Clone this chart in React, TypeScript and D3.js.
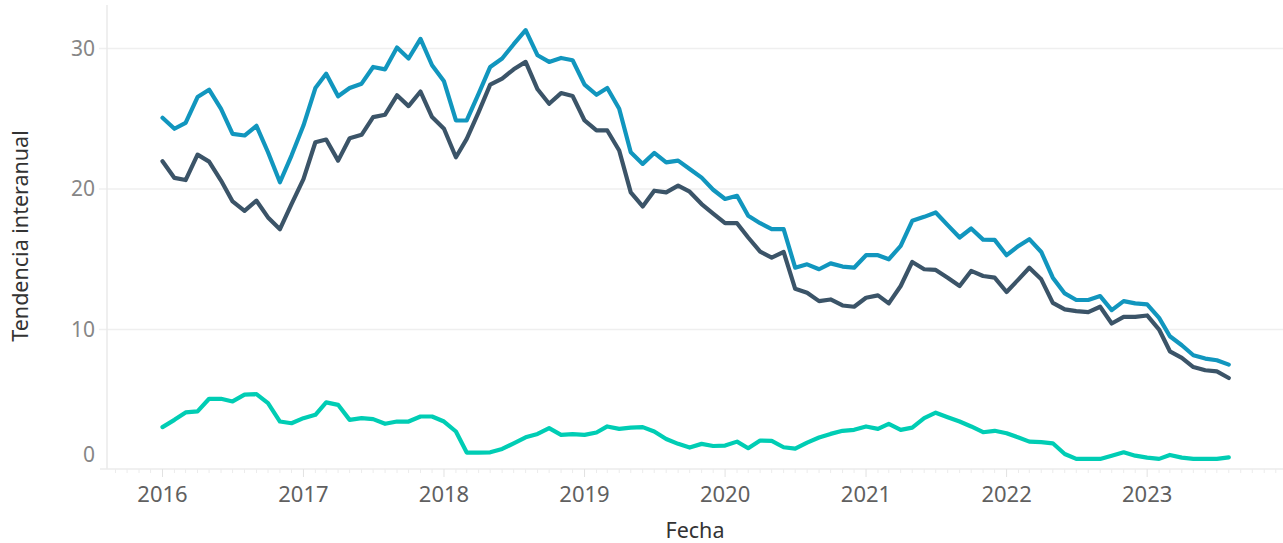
import React from "react";
import * as d3 from "d3";

const START_YEAR = 2016;
const START_MONTH = 0;

const totalSeries = [
  25.07, 24.29, 24.71, 26.55, 27.07, 25.71, 23.93, 23.81, 24.5, 22.62, 20.48, 22.38,
  24.52, 27.19, 28.21, 26.6, 27.19, 27.5, 28.69, 28.52, 30.07, 29.29, 30.69, 28.81,
  27.67, 24.88, 24.88, 26.79, 28.69, 29.29, 30.31, 31.31, 29.52, 29.05, 29.33, 29.17,
  27.43, 26.71, 27.19, 25.71, 22.62, 21.79, 22.57, 21.9, 22.02, 21.43, 20.81, 19.95,
  19.29, 19.52, 18.1, 17.57, 17.14, 17.14, 14.4, 14.64, 14.29, 14.71, 14.48, 14.4,
  15.29, 15.29, 15.0, 15.95, 17.74, 18.02, 18.33, 17.43, 16.55, 17.19, 16.4, 16.38,
  15.29, 15.95, 16.43, 15.52, 13.69, 12.57, 12.1, 12.1, 12.38, 11.38, 12.02, 11.86,
  11.79, 10.83, 9.52, 8.88, 8.17, 7.93, 7.81, 7.5,
];

const darkSeries = [
  21.98, 20.79, 20.64, 22.45, 21.95, 20.6, 19.12, 18.45, 19.17, 17.98, 17.14, 18.93,
  20.71, 23.33, 23.52, 22.02, 23.62, 23.86, 25.12, 25.29, 26.67, 25.9, 26.94, 25.12,
  24.29, 22.26, 23.57, 25.48, 27.43, 27.86, 28.52, 29.05, 27.1, 26.07, 26.83, 26.62,
  24.88, 24.17, 24.17, 22.74, 19.76, 18.76, 19.88, 19.76, 20.24, 19.81, 18.93, 18.25,
  17.57, 17.57, 16.55, 15.55, 15.12, 15.52, 12.9, 12.62, 12.02, 12.14, 11.71, 11.62,
  12.26, 12.43, 11.86, 13.1, 14.81, 14.29, 14.24, 13.69, 13.1, 14.17, 13.81, 13.69,
  12.67, 13.57, 14.4, 13.57, 11.9, 11.43, 11.31, 11.24, 11.62, 10.43, 10.9, 10.9,
  11.0, 10.0, 8.45, 7.98, 7.33, 7.1, 7.02, 6.55,
];

const tealSeries = [
  3.05, 3.57, 4.1, 4.17, 5.07, 5.07, 4.88, 5.36, 5.4, 4.76, 3.45, 3.33,
  3.69, 3.93, 4.81, 4.64, 3.57, 3.69, 3.62, 3.29, 3.45, 3.45, 3.81, 3.81,
  3.45, 2.74, 1.24, 1.24, 1.26, 1.5, 1.9, 2.33, 2.57, 2.98, 2.5, 2.55,
  2.5, 2.67, 3.1, 2.93, 3.02, 3.05, 2.74, 2.21, 1.86, 1.6, 1.86, 1.71,
  1.74, 2.02, 1.55, 2.1, 2.07, 1.62, 1.52, 1.95, 2.31, 2.57, 2.79, 2.86,
  3.1, 2.93, 3.29, 2.86, 3.02, 3.69, 4.08, 3.76, 3.45, 3.1, 2.69, 2.79,
  2.62, 2.31, 2.02, 1.98, 1.9, 1.14, 0.79, 0.79, 0.79, 1.02, 1.26, 1.02,
  0.88, 0.79, 1.07, 0.88, 0.79, 0.79, 0.79, 0.9,
];

const yTicks = [0, 10, 20, 30];
const xTickYears = [2016, 2017, 2018, 2019, 2020, 2021, 2022, 2023];
const xTitle = "Fecha";
const yTitle = "Tendencia interanual";

const seriesList = [
  { name: "total", values: totalSeries, color: "#1196BE" },
  { name: "dark", values: darkSeries, color: "#3B5468" },
  { name: "teal", values: tealSeries, color: "#00CDB4" },
];

const W = 1283;
const H = 543;
const FONT = "'Noto Sans', 'Open Sans', sans-serif";

export default function App() {
  const plotLeft = 107;
  const plotRight = W;
  const plotTop = 5;
  const plotBottom = 470;

  const x = d3
    .scaleTime()
    .domain([new Date(2016, 0, 1), new Date(2024, 0, 1)])
    .range([162.5, 162.5 + 8 * 140.65]);
  const y = d3.scaleLinear().domain([0, 33.1]).range([plotBottom, plotTop]);

  const dates = totalSeries.map((_, i) => new Date(START_YEAR, START_MONTH + i, 1));

  const line = d3
    .line<number>()
    .x((_, i) => x(dates[i]))
    .y((v) => y(v));

  const monthTicks = d3.timeMonth.range(x.invert(plotLeft), x.invert(plotRight));
  const axisY = 469;

  return (
    <svg
      width={W}
      height={H}
      style={{ position: "absolute", left: 0, top: 0, display: "block", background: "#fff" }}
      fontFamily={FONT}
    >
      {yTicks
        .filter((t) => t > 0)
        .map((t) => (
          <line
            key={"g" + t}
            x1={99}
            x2={plotRight}
            y1={y(t)}
            y2={y(t)}
            stroke="#efefef"
            strokeWidth={1.5}
          />
        ))}
      <line x1={plotLeft} x2={plotLeft} y1={plotTop} y2={axisY} stroke="#eaeaea" strokeWidth={1.5} />
      <line x1={100} x2={plotRight} y1={axisY} y2={axisY} stroke="#ebebeb" strokeWidth={1.5} />
      {monthTicks.map((d, i) => {
        const isYear = d.getMonth() === 0;
        return (
          <line
            key={"m" + i}
            x1={x(d)}
            x2={x(d)}
            y1={axisY}
            y2={axisY + (isYear ? 8 : 4)}
            stroke={isYear ? "#e2e2e2" : "#ececec"}
            strokeWidth={1}
          />
        );
      })}
      {yTicks.map((t) => (
        <text
          key={"yt" + t}
          x={95}
          y={t === 0 ? 455 : y(t)}
          dy="0.35em"
          textAnchor="end"
          fontSize={21}
          fill="#868686"
        >
          {t}
        </text>
      ))}
      {xTickYears.map((yr) => (
        <text
          key={"xt" + yr}
          x={x(new Date(yr, 0, 1))}
          y={502}
          textAnchor="middle"
          fontSize={22}
          fill="#606060"
        >
          {yr}
        </text>
      ))}
      <text x={695} y={538} textAnchor="middle" fontSize={21.5} fill="#333">
        {xTitle}
      </text>
      <text
        transform={`translate(28, 236) rotate(-90)`}
        textAnchor="middle"
        fontSize={21.5}
        fill="#333"
      >
        {yTitle}
      </text>
      {seriesList.map((s) => (
        <path
          key={s.name}
          d={line(s.values) || ""}
          fill="none"
          stroke={s.color}
          strokeWidth={4.2}
          strokeLinejoin="round"
          strokeLinecap="round"
        />
      ))}
    </svg>
  );
}
